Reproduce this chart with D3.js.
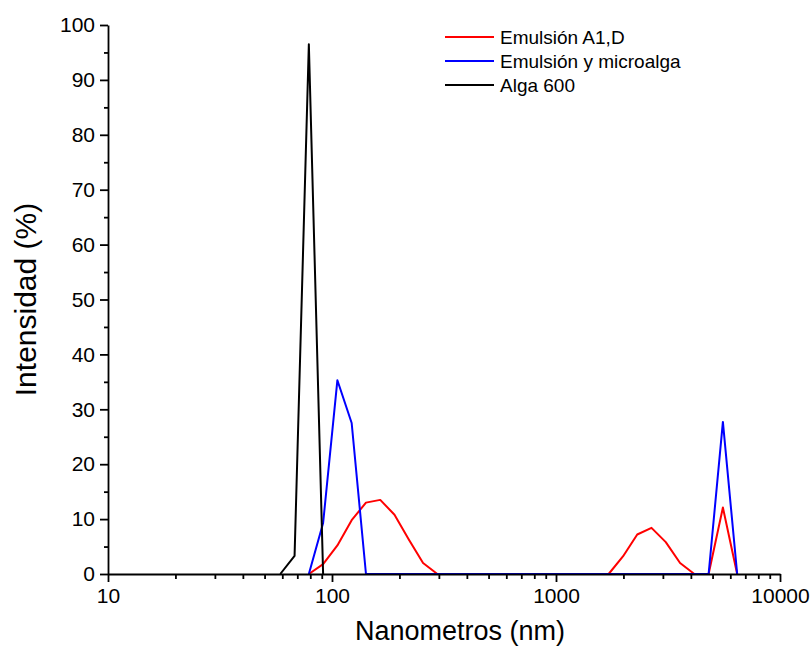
<!DOCTYPE html>
<html>
<head>
<meta charset="utf-8">
<script src="https://cdn.jsdelivr.net/npm/d3@7"></script>
<style>
  body { margin: 0; background: #fff; }
  text { font-family: "Liberation Sans", Arial, sans-serif; }
</style>
</head>
<body>
<div id="chart"></div>
<script>
// size bins (nm) and intensity (%)
const redSizes = [78.82, 91.28, 105.7, 122.4, 141.8, 164.2, 190.1, 220.2, 255.0, 295.3,
                  1718, 1990, 2305, 2669, 3091, 3580, 4145, 4801, 5560, 6439];
const redValues = [0, 1.8, 5.2, 9.8, 13.0, 13.5, 10.8, 6.3, 2.0, 0,
                   0, 3.2, 7.2, 8.4, 5.8, 2.0, 0, 0, 12.1, 0];

const blueSizes = [78.82, 91.28, 105.7, 122.4, 141.8, 4801, 5560, 6439];
const blueValues = [0, 9.3, 35.3, 27.5, 0, 0, 27.7, 0];

const blackSizes = [58.77, 68.06, 78.82, 91.28];
const blackValues = [0, 3.3, 96.5, 0];

const seriesNames = ["Emulsión A1,D", "Emulsión y microalga", "Alga 600"];
const seriesColors = ["#ff0000", "#0000ff", "#000000"];

const xTickValues = [10, 100, 1000, 10000];
const yTickValues = [0, 10, 20, 30, 40, 50, 60, 70, 80, 90, 100];

// -------------------------------------------------------------------------
const width = 812, height = 658;
const margin = { top: 25, right: 32, bottom: 84, left: 108 };

const svg = d3.select("#chart").append("svg")
    .attr("width", width)
    .attr("height", height);

const x = d3.scaleLog()
    .domain([10, 10000])
    .range([margin.left, width - margin.right]);

const y = d3.scaleLinear()
    .domain([0, 100])
    .range([height - margin.bottom, margin.top]);

const series = [
    { name: seriesNames[0], color: seriesColors[0], sizes: redSizes, values: redValues },
    { name: seriesNames[1], color: seriesColors[1], sizes: blueSizes, values: blueValues },
    { name: seriesNames[2], color: seriesColors[2], sizes: blackSizes, values: blackValues }
];

const line = d3.line()
    .x(d => x(d[0]))
    .y(d => y(d[1]));

svg.append("g")
    .attr("fill", "none")
    .attr("stroke-width", 2)
    .attr("stroke-linejoin", "round")
  .selectAll("path")
  .data(series)
  .join("path")
    .attr("stroke", d => d.color)
    .attr("d", d => line(d.sizes.map((s, i) => [s, d.values[i]])));

// x axis: major decades + minor ticks
const minorX = [];
for (let dec = 10; dec < 10000; dec *= 10) {
    for (let k = 2; k <= 9; k++) minorX.push(dec * k);
}

const xAxis = svg.append("g")
    .attr("transform", `translate(0,${y(0)})`);

xAxis.call(d3.axisBottom(x).tickValues(minorX).tickSize(5).tickFormat(""))
    .call(g => g.select(".domain").remove());

xAxis.append("g")
    .call(d3.axisBottom(x).tickValues(xTickValues).tickSize(8).tickSizeOuter(0)
        .tickFormat(d3.format("d")).tickPadding(6))
    .call(g => g.selectAll("text").attr("font-size", 21).attr("fill", "#000")
        .attr("font-family", "'Liberation Sans', Arial, sans-serif"));

xAxis.selectAll("line, path").attr("stroke", "#000").attr("stroke-width", 1.8);

// y axis
const yAxis = svg.append("g")
    .attr("transform", `translate(${x(10)},0)`);

yAxis.call(d3.axisLeft(y).tickValues(d3.range(5, 100, 10)).tickSize(4).tickFormat(""))
    .call(g => g.select(".domain").remove());

yAxis.append("g")
    .call(d3.axisLeft(y).tickValues(yTickValues).tickSize(8).tickSizeOuter(0).tickPadding(5))
    .call(g => g.selectAll("text").attr("font-size", 21).attr("fill", "#000")
        .attr("font-family", "'Liberation Sans', Arial, sans-serif"));

yAxis.selectAll("line, path").attr("stroke", "#000").attr("stroke-width", 1.8);

// axis titles
svg.append("text")
    .attr("x", 460)
    .attr("y", 640)
    .attr("text-anchor", "middle")
    .attr("font-size", 27)
    .text("Nanometros (nm)");

svg.append("text")
    .attr("transform", `translate(36,${(y(0) + y(100)) / 2}) rotate(-90)`)
    .attr("text-anchor", "middle")
    .attr("font-size", 30)
    .text("Intensidad (%)");

// legend
const legend = svg.append("g")
    .attr("transform", "translate(445,37)");

const item = legend.selectAll("g")
    .data(series)
    .join("g")
    .attr("transform", (d, i) => `translate(0,${i * 24})`);

item.append("line")
    .attr("x1", 0).attr("x2", 49)
    .attr("stroke", d => d.color)
    .attr("stroke-width", 2);

item.append("text")
    .attr("x", 55)
    .attr("dy", "0.35em")
    .attr("font-size", 19)
    .text(d => d.name);
</script>
</body>
</html>
